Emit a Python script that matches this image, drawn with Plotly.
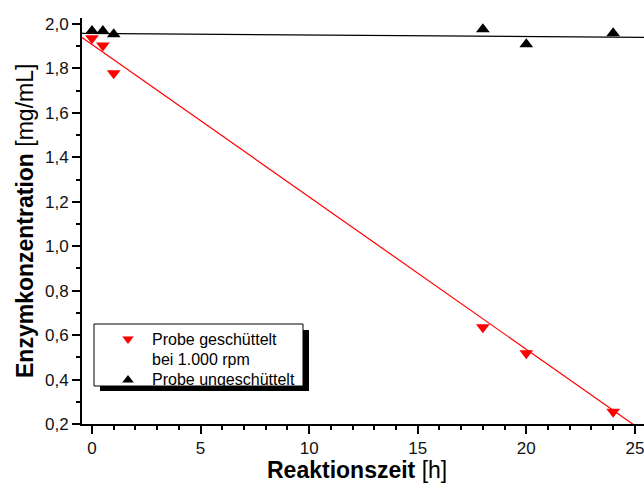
import numpy as np
import plotly.graph_objects as go

# Data
time_h = [0, 0.5, 1, 18, 20, 24]
shaken = [1.936, 1.903, 1.778, 0.635, 0.518, 0.255]
unshaken = [1.969, 1.969, 1.954, 1.976, 1.909, 1.958]

# linear fit lines as drawn in the reference (intercept, slope)
shaken_fit = [1.908, -0.0686]
unshaken_fit = [1.9577, -0.0007]

x_ticks = [0, 5, 10, 15, 20, 25]
legend_labels = ["Probe geschüttelt", "bei 1.000 rpm", "Probe ungeschüttelt"]

x_range = [-0.46, 25.42]
y_range = [0.2, 2.027]

FONT = "Arial, Liberation Sans, sans-serif"

# plot area in pixels
L, R, T, B = 82, 644, 18, 424


def px_x(p):
    return (p - L) / (R - L)


def px_y(p):
    return (B - p) / (B - T)


xf = np.array(x_range)

fig = go.Figure()
fig.add_trace(go.Scatter(x=xf, y=shaken_fit[0] + shaken_fit[1] * xf, mode="lines",
                         line=dict(color="#ff0000", width=1.2), showlegend=False, hoverinfo="skip"))
fig.add_trace(go.Scatter(x=xf, y=unshaken_fit[0] + unshaken_fit[1] * xf, mode="lines",
                         line=dict(color="#000000", width=1.2), showlegend=False, hoverinfo="skip"))
fig.add_trace(go.Scatter(x=time_h, y=shaken, mode="markers", showlegend=False,
                         marker=dict(symbol="triangle-down", size=12, color="#ff0000", line=dict(width=0))))
fig.add_trace(go.Scatter(x=time_h, y=unshaken, mode="markers", showlegend=False,
                         marker=dict(symbol="triangle-up", size=12, color="#000000", line=dict(width=0))))

# ---- manual legend on a pixel-scaled overlay axis ----
fig.add_shape(type="rect", xref="x2", yref="y2", x0=100, x1=309, y0=330, y1=391,
              fillcolor="#000000", line=dict(width=0), layer="below")
fig.add_shape(type="rect", xref="x2", yref="y2", x0=94, x1=303, y0=324, y1=386,
              fillcolor="#ffffff", line=dict(color="#000000", width=1), layer="below")
fig.add_trace(go.Scatter(x=[128], y=[339], xaxis="x2", yaxis="y2", mode="markers", showlegend=False,
                         hoverinfo="skip",
                         marker=dict(symbol="triangle-down", size=10, color="#ff0000", line=dict(width=0))))
fig.add_trace(go.Scatter(x=[128], y=[380], xaxis="x2", yaxis="y2", mode="markers", showlegend=False,
                         hoverinfo="skip",
                         marker=dict(symbol="triangle-up", size=10, color="#000000", line=dict(width=0))))
for txt, yy in zip(legend_labels, [339, 359, 379]):
    fig.add_annotation(xref="x2", yref="y2", x=150, y=yy, text=txt, showarrow=False,
                       xanchor="left", yanchor="middle",
                       font=dict(family=FONT, size=16, color="#000000"))

# axis titles
fig.add_annotation(xref="paper", yref="paper", x=px_x(357), y=px_y(470), text="<b>Reaktionszeit</b> [h]",
                   showarrow=False, xanchor="center", yanchor="middle",
                   font=dict(family=FONT, size=23, color="#000000"))
fig.add_annotation(xref="paper", yref="paper", x=px_x(25), y=px_y(221), text="<b>Enzymkonzentration</b> [mg/mL]",
                   showarrow=False, xanchor="center", yanchor="middle", textangle=-90,
                   font=dict(family=FONT, size=23, color="#000000"))

fig.update_layout(
    width=644, height=483,
    margin=dict(l=L, r=644 - R, t=T, b=483 - B),
    paper_bgcolor="white", plot_bgcolor="white",
    separators=",.",
    showlegend=False,
    font=dict(family=FONT, color="#000000"),
    xaxis=dict(range=x_range, tickvals=x_ticks, showgrid=False, zeroline=False,
               showline=True, linecolor="#000000", linewidth=2,
               ticks="outside", ticklen=8, tickwidth=2, tickcolor="#000000",
               ticklabeloverflow="allow",
               tickfont=dict(family=FONT, size=17, color="#111111"),
               minor=dict(dtick=1, tick0=0, ticks="outside", ticklen=4, tickwidth=2, tickcolor="#000000")),
    yaxis=dict(range=y_range, tick0=0.2, dtick=0.2, tickformat=".1f", showgrid=False, zeroline=False,
               showline=True, linecolor="#000000", linewidth=2,
               ticks="outside", ticklen=8, tickwidth=2, tickcolor="#000000",
               tickfont=dict(family=FONT, size=17, color="#111111"),
               minor=dict(dtick=0.1, tick0=0.2, ticks="outside", ticklen=4, tickwidth=2, tickcolor="#000000")),
    xaxis2=dict(overlaying="x", range=[L, R], visible=False, fixedrange=True),
    yaxis2=dict(overlaying="y", range=[B, T], visible=False, fixedrange=True),
)

fig.write_html("out.html")
